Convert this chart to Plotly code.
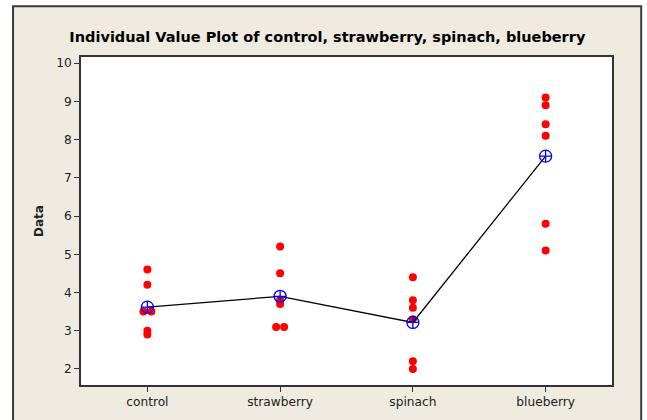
import plotly.graph_objects as go
import numpy as np

categories = ["control", "strawberry", "spinach", "blueberry"]
control = [4.6, 4.2, 3.5, 3.5, 3.0, 2.9]
strawberry = [5.2, 4.5, 3.8, 3.7, 3.1, 3.1]
spinach = [4.4, 3.8, 3.6, 3.3, 2.2, 2.0]
blueberry = [9.1, 8.9, 8.4, 8.1, 5.8, 5.1]
series = [control, strawberry, spinach, blueberry]
y_ticks = [2, 3, 4, 5, 6, 7, 8, 9, 10]

fig = go.Figure()

# individual values, ties placed side by side
xs, ys = [], []
for i, vals in enumerate(series):
    counts = {}
    for v in vals:
        counts[v] = counts.get(v, 0) + 1
    seen = {}
    for v in vals:
        n = counts[v]
        k = seen.get(v, 0)
        seen[v] = k + 1
        off = (k - (n - 1) / 2) * 0.06
        xs.append(i + off)
        ys.append(v)

fig.add_trace(go.Scatter(x=xs, y=ys, mode="markers",
                         marker=dict(color="#ff0000", size=8, line=dict(width=0)),
                         showlegend=False, hoverinfo="y"))

means = [float(np.mean(v)) for v in series]
fig.add_trace(go.Scatter(x=list(range(len(categories))), y=means, mode="lines+markers",
                         line=dict(color="black", width=1.3),
                         marker=dict(symbol="circle-cross-open", size=12, color="#0000ff",
                                     line=dict(width=1.3, color="#0000ff")),
                         showlegend=False))

# outer beige frame, then white plot area on top of it
fig.add_shape(type="rect", xref="paper", yref="paper",
              x0=-0.128, x1=1.055, y0=-0.2, y1=1.155,
              fillcolor="#efebe1", line=dict(color="#3a3a3a", width=2), layer="below")
fig.add_shape(type="rect", xref="paper", yref="paper",
              x0=0, x1=1, y0=0, y1=1,
              fillcolor="white", line=dict(width=0), layer="below")

fig.update_layout(
    width=647, height=420,
    margin=dict(l=81, r=35, t=57, b=35, autoexpand=False),
    paper_bgcolor="white",
    plot_bgcolor="white",
    title=dict(text="<b>Individual Value Plot of control, strawberry, spinach, blueberry</b>",
               x=0.506, xanchor="center", y=0.912, yanchor="middle",
               font=dict(family="DejaVu Sans", size=14.5, color="black")),
    font=dict(family="DejaVu Sans", size=12.2, color="#222"),
    xaxis=dict(range=[-0.5, 3.5], tickmode="array", tickvals=list(range(len(categories))),
               ticktext=categories, ticks="outside", ticklen=5, tickcolor="#333",
               showline=True, linecolor="#333", linewidth=1.5, mirror=True,
               showgrid=False, zeroline=False, automargin=False),
    yaxis=dict(range=[1.58, 10.16], tickmode="array", tickvals=y_ticks,
               ticks="outside", ticklen=5, tickcolor="#333",
               showline=True, linecolor="#333", linewidth=1.5, mirror=True,
               showgrid=False, zeroline=False, automargin=False,
               title=dict(text="<b>Data</b>", font=dict(size=12), standoff=10)),
)

fig.write_html("out.html", config={"displayModeBar": False},
               post_script="document.body.style.margin='0';")
